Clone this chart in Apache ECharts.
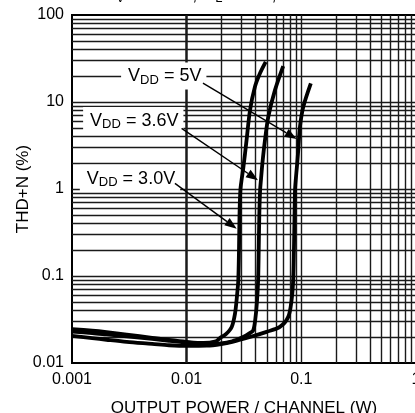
<!DOCTYPE html>
<html><head><meta charset="utf-8">
<script src="https://cdn.jsdelivr.net/npm/echarts@6/dist/echarts.min.js"></script>
<style>html,body{margin:0;padding:0;background:#fff}#c{width:415px;height:413px}</style>
</head><body><div id="c"></div>
<script>
// ---- tick labels ----
const xTickValues = [0.001, 0.01, 0.1, 1];
const xTickLabels = ['0.001', '0.01', '0.1', '1'];
const yTickValues = [0.01, 0.1, 1, 10, 100];
const yTickLabels = ['0.01', '0.1', '1', '10', '100'];

// ---- log grid line values ----
const xGridValues = [0.002,0.003,0.004,0.005,0.006,0.007,0.008,0.009,0.01,
  0.02,0.03,0.04,0.05,0.06,0.07,0.08,0.09,0.1,
  0.2,0.3,0.4,0.5,0.6,0.7,0.8,0.9];
const yGridValues = [0.02,0.03,0.04,0.05,0.06,0.07,0.08,0.09,0.1,
  0.2,0.3,0.4,0.5,0.6,0.7,0.8,0.9,1,
  2,3,4,5,6,7,8,9,10,
  20,30,40,50,60,70,80,90];

// ---- series: VDD = 3.0V ----
const power30 = [0.001,0.0015,0.002,0.003,0.005,0.007,0.01,0.014,0.018,0.0195,0.022,0.0247,0.0264,0.0275,0.0282,0.0286,0.0289,0.0294,0.0302,0.0312,0.0333,0.0357,0.0394,0.0435,0.0489];
const thd30   = [0.0245,0.0235,0.0226,0.0212,0.0195,0.0184,0.0175,0.017,0.0178,0.0193,0.0215,0.026,0.037,0.06,0.09,0.2,0.5,0.97,1.3,1.75,3.65,8.1,15,21.3,29];
// ---- series: VDD = 3.6V ----
const power36 = [0.001,0.0015,0.002,0.003,0.005,0.007,0.01,0.015,0.02,0.025,0.03,0.0333,0.0358,0.0381,0.0397,0.041,0.042,0.0425,0.043,0.0437,0.0445,0.0458,0.0482,0.0515,0.0589,0.0695];
const thd36   = [0.023,0.0221,0.0213,0.0202,0.0189,0.018,0.0172,0.0166,0.0168,0.0178,0.0195,0.0209,0.0222,0.0238,0.032,0.05,0.0896,0.2,0.5,0.97,1.3,2.0,3.65,6.76,13.7,25.9];
// ---- series: VDD = 5V ----
const power50 = [0.001,0.0015,0.002,0.003,0.005,0.007,0.01,0.015,0.02,0.025,0.0357,0.0498,0.065,0.0769,0.0822,0.0849,0.0862,0.0872,0.0881,0.0895,0.0915,0.094,0.0973,0.104,0.121];
const thd50   = [0.0205,0.0193,0.0185,0.0175,0.0166,0.016,0.0157,0.0158,0.0165,0.0175,0.0199,0.0228,0.026,0.0339,0.0527,0.0896,0.2,0.5,0.97,1.3,1.8,2.8,5.2,8.8,16.4];

// ---- annotations (data coordinates) ----
const annLabels  = ['5V', '3.6V', '3.0V'];
const annTextAt  = [[0.00268, 19.9], [0.00125, 6.12], [0.00117, 1.33]];
const annArrowFrom = [[0.01387, 16.5], [0.00903, 4.98], [0.0079, 1.16]];
const annArrowTo   = [[0.091, 3.75], [0.0419, 1.26], [0.0273, 0.35]];

const FONT = '"Liberation Sans", Arial, Helvetica, sans-serif';

function pairs(xs, ys) { return xs.map((x, i) => [x, ys[i]]); }
function labelFor(values, labels, v) {
  let best = -1, bd = 1e9;
  values.forEach((t, i) => { const d = Math.abs(Math.log10(t) - Math.log10(v)); if (d < bd) { bd = d; best = i; } });
  return bd < 0.01 ? labels[best] : '';
}

const chart = echarts.init(document.getElementById('c'), null, { renderer: 'canvas' });

const gridLineStyle = { color: '#1a1a1a', width: 1.4, type: 'solid' };
const curveStyle = { color: '#000', width: 3.8 };

const option = {
  animation: false,
  backgroundColor: '#fff',
  grid: { left: 72, top: 15, width: 344, height: 348, show: true, borderColor: '#000', borderWidth: 2,
          containLabel: false, outerBoundsMode: 'none' },
  xAxis: {
    type: 'log', logBase: 10, min: 0.001, max: 1,
    axisLine: { show: true, lineStyle: { color: '#000', width: 2 } },
    axisTick: { show: false }, splitLine: { show: false },
    axisLabel: { color: '#000', fontFamily: FONT, fontSize: 16, margin: 9,
      showMinLabel: true, showMaxLabel: true, hideOverlap: false,
      formatter: v => labelFor(xTickValues, xTickLabels, v) },
    name: 'OUTPUT POWER / CHANNEL (W)', nameLocation: 'middle', nameGap: 37, nameMoveOverlap: false,
    nameTextStyle: { color: '#000', fontFamily: FONT, fontSize: 17 }
  },
  yAxis: {
    type: 'log', logBase: 10, min: 0.01, max: 100,
    axisLine: { show: true, lineStyle: { color: '#000', width: 2 } },
    axisTick: { show: false }, splitLine: { show: false },
    axisLabel: { color: '#000', fontFamily: FONT, fontSize: 16, margin: 8,
      showMinLabel: true, showMaxLabel: true,
      formatter: v => labelFor(yTickValues, yTickLabels, v) },
    name: 'THD+N (%)', nameLocation: 'middle', nameGap: 40, nameRotate: 90, nameMoveOverlap: false,
    nameTextStyle: { color: '#000', fontFamily: FONT, fontSize: 17 }
  },
  series: [
    {
      type: 'line', data: [], z: 1, silent: true,
      markLine: {
        silent: true, symbol: ['none', 'none'], label: { show: false },
        lineStyle: gridLineStyle, animation: false,
        data: xGridValues.map(v => ({ xAxis: v })).concat(yGridValues.map(v => ({ yAxis: v })))
      }
    },
    { name: 'VDD = 3.0V', type: 'line', z: 5, showSymbol: false, smooth: 0.3, data: pairs(power30, thd30), lineStyle: curveStyle, itemStyle: { color: '#000' } },
    { name: 'VDD = 3.6V', type: 'line', z: 5, showSymbol: false, smooth: 0.3, data: pairs(power36, thd36), lineStyle: curveStyle, itemStyle: { color: '#000' } },
    { name: 'VDD = 5V',   type: 'line', z: 5, showSymbol: false, smooth: 0.3, data: pairs(power50, thd50), lineStyle: curveStyle, itemStyle: { color: '#000' } }
  ]
};
chart.setOption(option);

// ---- annotations: labels with white boxes + arrows ----
const graphics = [];
const richStyle = {
  m: { fontSize: 18, fontFamily: FONT, fill: '#000', lineHeight: 20, verticalAlign: 'middle' },
  s: { fontSize: 13, fontFamily: FONT, fill: '#000', lineHeight: 10, verticalAlign: 'bottom' }
};
annLabels.forEach((lab, i) => {
  const p = chart.convertToPixel({ gridIndex: 0 }, annTextAt[i]);
  graphics.push({
    type: 'text', x: p[0], y: p[1], z: 20, silent: true,
    style: {
      text: '{m|V}{s|DD}{m| = ' + lab + '}', rich: richStyle,
      align: 'left', verticalAlign: 'middle',
      backgroundColor: '#fff', padding: [4, 5, 3, 7]
    }
  });
  const a = chart.convertToPixel({ gridIndex: 0 }, annArrowFrom[i]);
  const b = chart.convertToPixel({ gridIndex: 0 }, annArrowTo[i]);
  const dx = b[0] - a[0], dy = b[1] - a[1];
  const len = Math.sqrt(dx * dx + dy * dy);
  const ux = dx / len, uy = dy / len;
  const hl = 12, hw = 4.5;
  const bx = b[0] - ux * hl, by = b[1] - uy * hl;
  graphics.push({
    type: 'line', z: 21, silent: true,
    shape: { x1: a[0], y1: a[1], x2: bx, y2: by },
    style: { stroke: '#000', lineWidth: 1.4 }
  });
  graphics.push({
    type: 'polygon', z: 21, silent: true,
    shape: { points: [[b[0], b[1]], [bx - uy * hw, by + ux * hw], [bx + uy * hw, by - ux * hw]] },
    style: { fill: '#000' }
  });
});
// partially visible title line at the top edge
graphics.push({
  type: 'text', x: 104, y: 5, z: 20, silent: true,
  style: {
    text: '{m|A}{s|V}{m| = 24 dB, }{m|R}{s|L}{m| = 8 Ω, f = 1 kHz}',
    rich: richStyle, align: 'left', verticalAlign: 'bottom'
  }
});
chart.setOption({ graphic: graphics });
</script></body></html>
